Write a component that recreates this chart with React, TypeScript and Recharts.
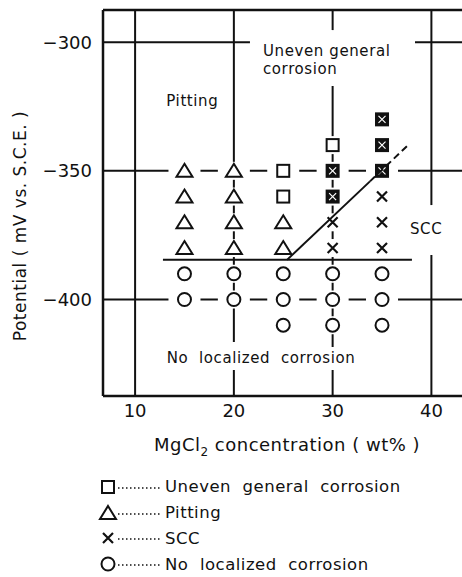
import React from "react";
import { ComposedChart, Scatter, XAxis, YAxis, ReferenceLine, ReferenceDot } from "recharts";

// axis ranges / ticks
const xDomain = [6.75, 43.2];
const yDomain = [-437.5, -287.5];
const xTicks = [10, 20, 30, 40];
const yTicks = [-300, -350, -400];

// test results (MgCl2 wt%, potential mV vs SCE)
const unevenPoints = [
  { x: 25, y: -350 },
  { x: 25, y: -360 },
  { x: 30, y: -340 },
];
const unevenSccPoints = [
  { x: 30, y: -350 },
  { x: 30, y: -360 },
  { x: 35, y: -330 },
  { x: 35, y: -340 },
  { x: 35, y: -350 },
];
const pittingPoints = [
  { x: 15, y: -350 },
  { x: 15, y: -360 },
  { x: 15, y: -370 },
  { x: 15, y: -380 },
  { x: 20, y: -350 },
  { x: 20, y: -360 },
  { x: 20, y: -370 },
  { x: 20, y: -380 },
  { x: 25, y: -370 },
  { x: 25, y: -380 },
];
const sccPoints = [
  { x: 30, y: -370 },
  { x: 30, y: -380 },
  { x: 35, y: -360 },
  { x: 35, y: -370 },
  { x: 35, y: -380 },
];
const noCorrosionPoints = [
  { x: 15, y: -390 },
  { x: 15, y: -400 },
  { x: 20, y: -390 },
  { x: 20, y: -400 },
  { x: 25, y: -390 },
  { x: 25, y: -400 },
  { x: 25, y: -410 },
  { x: 30, y: -390 },
  { x: 30, y: -400 },
  { x: 30, y: -410 },
  { x: 35, y: -390 },
  { x: 35, y: -400 },
  { x: 35, y: -410 },
];

// boundaries between regions
const pittingBoundary = [
  { x: 12.82, y: -384.6 },
  { x: 38.03, y: -384.6 },
];
const sccBoundarySolid = [
  { x: 25.38, y: -384.6 },
  { x: 33.78, y: -354.1 },
];
const sccBoundaryDashed = [
  { x: 33.78, y: -354.1 },
  { x: 37.53, y: -340.4 },
];

// grid line pieces (broken where text sits)
const vGrid = [
  { x: 10, y1: -437.5, y2: -287.5 },
  { x: 20, y1: -416.5, y2: -287.5 },
  { x: 20, y1: -437.5, y2: -427.4 },
  { x: 30, y1: -295.3, y2: -287.5 },
  { x: 30, y1: -418.5, y2: -317.0 },
  { x: 30, y1: -437.5, y2: -427.4 },
  { x: 40, y1: -363.3, y2: -287.5 },
  { x: 40, y1: -437.5, y2: -382.7 },
];
const hGrid = [
  { y: -300, x1: 6.75, x2: 21.63 },
  { y: -300, x1: 38.34, x2: 43.2 },
  { y: -350, x1: 6.75, x2: 43.2 },
  { y: -400, x1: 6.75, x2: 43.2 },
];

const regionLabels = [
  { text: "Uneven general", x: 22.95, y: -305.4 },
  { text: "corrosion", x: 22.95, y: -312.2 },
  { text: "Pitting", x: 13.16, y: -324.8 },
  { text: "SCC", x: 37.83, y: -374.7 },
  { text: "No  localized  corrosion", x: 13.2, y: -424.8 },
];

const legendItems = [
  { kind: "square", text: "Uneven  general  corrosion" },
  { kind: "triangle", text: "Pitting" },
  { kind: "cross", text: "SCC" },
  { kind: "circle", text: "No  localized  corrosion" },
];

const INK = "#111";
const FONT = "'DejaVu Sans', sans-serif";

const Glyph = ({ kind, cx, cy }: { kind: string; cx: number; cy: number }) => {
  if (kind === "square")
    return <rect x={cx - 6} y={cy - 6} width={12} height={12} fill="#fff" stroke={INK} strokeWidth={2} />;
  if (kind === "boxed")
    return (
      <g>
        <rect x={cx - 6} y={cy - 6} width={12} height={12} fill={INK} stroke={INK} strokeWidth={2} />
        <path d={`M${cx - 3.5} ${cy - 3.5} L${cx + 3.5} ${cy + 3.5} M${cx + 3.5} ${cy - 3.5} L${cx - 3.5} ${cy + 3.5}`} stroke="#fff" strokeWidth={1.2} />
      </g>
    );
  if (kind === "triangle")
    return (
      <path d={`M${cx} ${cy - 7} L${cx + 8} ${cy + 6} L${cx - 8} ${cy + 6} Z`} fill="#fff" stroke={INK} strokeWidth={2} strokeLinejoin="miter" />
    );
  if (kind === "cross")
    return (
      <path d={`M${cx - 5} ${cy - 5} L${cx + 5} ${cy + 5} M${cx + 5} ${cy - 5} L${cx - 5} ${cy + 5}`} stroke={INK} strokeWidth={2.2} />
    );
  return <circle cx={cx} cy={cy} r={6.5} fill="#fff" stroke={INK} strokeWidth={2} />;
};

// marker with white knock-out so grid lines break around it
const markerShape = (kind: string) => (props: any) => {
  const { cx, cy } = props;
  return (
    <g>
      <rect x={cx - 16} y={cy - 9} width={32} height={18} fill="#fff" />
      <Glyph kind={kind} cx={cx} cy={cy} />
    </g>
  );
};

const noShape = () => <g />;

const renderYLabel = (props: any) => {
  const vb = props.viewBox || { x: 0, y: 10, width: 103, height: 386 };
  const cx = 20;
  const cy = vb.y + vb.height / 2 + 23;
  return (
    <text x={cx} y={cy} transform={`rotate(-90, ${cx}, ${cy})`} textAnchor="middle" dominantBaseline="central" fontFamily={FONT} fontSize={17} letterSpacing={0.5} fill={INK}>
      Potential ( mV vs. S.C.E. )
    </text>
  );
};

const renderXLabel = (props: any) => {
  const vb = props.viewBox || { x: 103, y: 396, width: 360, height: 181 };
  const cx = vb.x + vb.width / 2 + 4;
  return (
    <text x={cx} y={451} textAnchor="middle" fontFamily={FONT} fontSize={18} letterSpacing={0.5} fill={INK}>
      MgCl<tspan fontSize={12} dy={5}>2</tspan>
      <tspan dy={-5}>  concentration ( wt% )</tspan>
    </text>
  );
};

const textShape = (text: string) => (props: any) => (
  <text x={props.cx} y={props.cy} textAnchor="start" fontFamily={FONT} fontSize={15} letterSpacing={0.6} fill={INK} style={{ whiteSpace: "pre" }}>
    {text}
  </text>
);

const LegendRow = ({ kind, text }: { kind: string; text: string }) => (
  <div style={{ display: "flex", alignItems: "center", height: 25.8 }}>
    <svg width={64} height={22}>
      <Glyph kind={kind} cx={10} cy={11} />
      <line x1={20} y1={12} x2={62} y2={12} stroke={INK} strokeWidth={1.3} strokeDasharray="1.5 2.5" />
    </svg>
    <span style={{ fontFamily: FONT, fontSize: 16.5, letterSpacing: 0.5, color: INK, whiteSpace: "pre", marginLeft: 3 }}>{text}</span>
  </div>
);

export default function App() {
  return (
    <div style={{ position: "absolute", left: 0, top: 0, width: 462, height: 577, overflow: "hidden", background: "#fff" }}>
      <ComposedChart width={470} height={577} margin={{ top: 10, right: 7, left: 0, bottom: 0 }}>
        <XAxis
          type="number"
          dataKey="x"
          domain={xDomain}
          ticks={xTicks}
          allowDataOverflow
          height={181}
          tickLine={false}
          tickSize={0}
          tickMargin={8}
          axisLine={{ stroke: INK, strokeWidth: 2.5 }}
          tick={{ fill: INK, fontSize: 18, fontFamily: FONT }}
          label={renderXLabel}
        />
        <YAxis
          type="number"
          dataKey="y"
          domain={yDomain}
          ticks={yTicks}
          allowDataOverflow
          width={103}
          tickLine={false}
          tickSize={0}
          tickMargin={11}
          axisLine={{ stroke: INK, strokeWidth: 2.5 }}
          tick={{ fill: INK, fontSize: 18, fontFamily: FONT }}
          tickFormatter={(v: number) => `\u2212${Math.abs(v)}`}
          label={renderYLabel}
        />
        <ReferenceLine y={-287.5} stroke={INK} strokeWidth={2.5} ifOverflow="visible" />
        {vGrid.map((g, i) => (
          <ReferenceLine key={`v${i}`} segment={[{ x: g.x, y: g.y1 }, { x: g.x, y: g.y2 }]} stroke={INK} strokeWidth={2} ifOverflow="visible" />
        ))}
        {hGrid.map((g, i) => (
          <ReferenceLine key={`h${i}`} segment={[{ x: g.x1, y: g.y }, { x: g.x2, y: g.y }]} stroke={INK} strokeWidth={2} ifOverflow="visible" />
        ))}
        <Scatter name="Uneven general corrosion" data={unevenPoints} shape={markerShape("square")} isAnimationActive={false} />
        <Scatter name="Uneven + SCC" data={unevenSccPoints} shape={markerShape("boxed")} isAnimationActive={false} />
        <Scatter name="Pitting" data={pittingPoints} shape={markerShape("triangle")} isAnimationActive={false} />
        <Scatter name="SCC" data={sccPoints} shape={markerShape("cross")} isAnimationActive={false} />
        <Scatter name="No localized corrosion" data={noCorrosionPoints} shape={markerShape("circle")} isAnimationActive={false} />
        <Scatter data={pittingBoundary} line={{ stroke: INK, strokeWidth: 2 }} shape={noShape} isAnimationActive={false} />
        <Scatter data={sccBoundarySolid} line={{ stroke: INK, strokeWidth: 2 }} shape={noShape} isAnimationActive={false} />
        <Scatter data={sccBoundaryDashed} line={{ stroke: INK, strokeWidth: 2, strokeDasharray: "7 4" }} shape={noShape} isAnimationActive={false} />
        {regionLabels.map((l, i) => (
          <ReferenceDot key={`t${i}`} x={l.x} y={l.y} r={0} ifOverflow="visible" shape={textShape(l.text)} />
        ))}
      </ComposedChart>
      <div style={{ position: "absolute", left: 98, top: 474 }}>
        {legendItems.map((it) => (
          <LegendRow key={it.kind} kind={it.kind} text={it.text} />
        ))}
      </div>
    </div>
  );
}
